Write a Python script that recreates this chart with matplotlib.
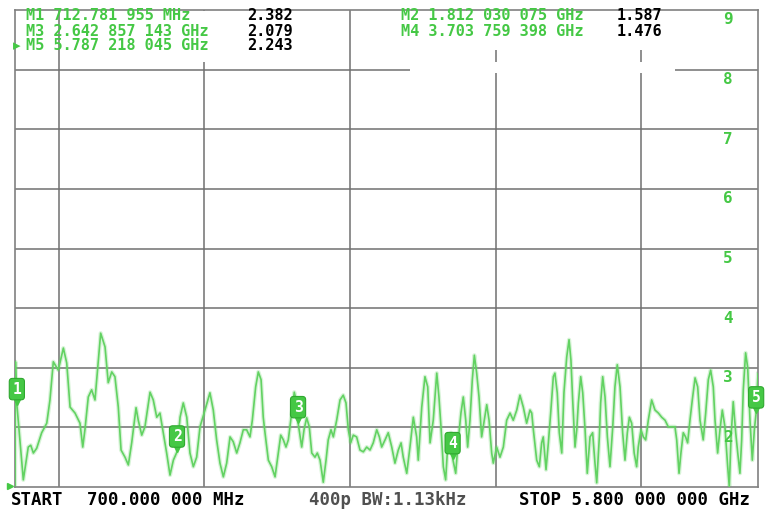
import matplotlib
matplotlib.use('Agg')
import matplotlib.pyplot as plt
from matplotlib.patches import Rectangle
from matplotlib.transforms import offset_copy, blended_transform_factory

# SWR trace (frequency in MHz)
freq_mhz = [
    700, 703, 713, 757, 791, 808, 826, 849, 883, 918,
    940, 963, 997, 1032, 1055, 1078, 1112, 1146, 1165, 1180,
    1203, 1226, 1249, 1272, 1288, 1318, 1340, 1364, 1386, 1409,
    1428, 1455, 1478, 1501, 1531, 1546, 1570, 1592, 1627, 1649,
    1673, 1695, 1718, 1741, 1764, 1787, 1812, 1833, 1855, 1879,
    1901, 1924, 1947, 1970, 2004, 2038, 2061, 2084, 2107, 2130,
    2153, 2176, 2198, 2222, 2244, 2267, 2290, 2313, 2329, 2352,
    2370, 2389, 2404, 2416, 2439, 2462, 2485, 2507, 2524, 2542,
    2560, 2576, 2599, 2617, 2634, 2643, 2668, 2684, 2702, 2720,
    2737, 2759, 2775, 2794, 2816, 2835, 2850, 2869, 2885, 2908,
    2931, 2953, 2972, 2988, 3004, 3022, 3045, 3068, 3091, 3114,
    3137, 3159, 3183, 3201, 3217, 3240, 3262, 3286, 3308, 3331,
    3350, 3365, 3389, 3411, 3434, 3457, 3468, 3492, 3514, 3533,
    3549, 3571, 3595, 3610, 3624, 3640, 3656, 3674, 3693, 3704,
    3725, 3743, 3761, 3777, 3794, 3807, 3823, 3839, 3853, 3869,
    3885, 3903, 3921, 3938, 3954, 3972, 3983, 4006, 4029, 4052,
    4075, 4098, 4120, 4144, 4166, 4189, 4212, 4235, 4247, 4258,
    4281, 4299, 4315, 4326, 4345, 4361, 4377, 4395, 4406, 4422,
    4436, 4453, 4468, 4487, 4503, 4516, 4528, 4544, 4556, 4567,
    4583, 4597, 4613, 4628, 4647, 4665, 4681, 4693, 4711, 4720,
    4734, 4750, 4766, 4784, 4803, 4818, 4834, 4853, 4871, 4887,
    4903, 4917, 4933, 4950, 4967, 4978, 4997, 5013, 5029, 5047,
    5070, 5093, 5116, 5139, 5162, 5184, 5208, 5230, 5242, 5258,
    5271, 5287, 5303, 5317, 5333, 5349, 5368, 5386, 5402, 5424,
    5441, 5459, 5475, 5493, 5505, 5523, 5539, 5555, 5573, 5592,
    5603, 5615, 5630, 5647, 5661, 5676, 5688, 5699, 5715, 5729,
    5745, 5761, 5775, 5787, 5800,
]
swr = [
    1.02, 3.10, 2.38, 1.12, 1.67, 1.70, 1.57, 1.65, 1.91, 2.07,
    2.46, 3.10, 2.96, 3.33, 3.08, 2.34, 2.24, 2.07, 1.67, 1.96,
    2.51, 2.63, 2.46, 3.13, 3.58, 3.35, 2.75, 2.93, 2.85, 2.34,
    1.62, 1.50, 1.37, 1.74, 2.33, 2.12, 1.87, 2.01, 2.59, 2.46,
    2.17, 2.24, 1.91, 1.57, 1.20, 1.45, 1.59, 2.17, 2.41, 2.17,
    1.57, 1.34, 1.50, 2.01, 2.29, 2.58, 2.29, 1.79, 1.40, 1.17,
    1.40, 1.84, 1.76, 1.57, 1.74, 1.96, 1.96, 1.84, 2.12, 2.68,
    2.93, 2.80, 2.17, 1.91, 1.45, 1.34, 1.17, 1.57, 1.87, 1.79,
    1.67, 1.79, 2.24, 2.59, 2.41, 2.08, 1.67, 1.96, 2.16, 2.01,
    1.57, 1.50, 1.57, 1.45, 1.08, 1.45, 1.79, 1.96, 1.84, 2.12,
    2.46, 2.54, 2.41, 1.96, 1.74, 1.87, 1.84, 1.62, 1.59, 1.67,
    1.62, 1.74, 1.96, 1.84, 1.67, 1.79, 1.91, 1.67, 1.40, 1.62,
    1.74, 1.50, 1.23, 1.67, 2.17, 1.84, 1.45, 2.34, 2.85, 2.68,
    1.74, 2.12, 2.91, 2.51, 2.01, 1.34, 1.12, 1.84, 1.91, 1.48,
    1.23, 1.79, 2.24, 2.51, 2.12, 1.67, 2.12, 2.80, 3.21, 2.91,
    2.51, 1.84, 2.12, 2.38, 2.12, 1.57, 1.40, 1.67, 1.50, 1.67,
    2.12, 2.24, 2.12, 2.29, 2.54, 2.34, 2.07, 2.29, 2.24, 1.96,
    1.45, 1.34, 1.74, 1.84, 1.29, 1.74, 2.24, 2.85, 2.91, 2.58,
    1.91, 1.57, 2.58, 3.18, 3.47, 3.13, 2.46, 1.67, 1.96, 2.41,
    2.85, 2.58, 1.96, 1.23, 1.84, 1.91, 1.40, 1.07, 1.84, 2.41,
    2.85, 2.51, 1.84, 1.34, 2.01, 2.68, 3.05, 2.68, 1.91, 1.45,
    1.91, 2.17, 2.07, 1.57, 1.34, 1.67, 1.96, 1.84, 1.79, 2.12,
    2.46, 2.29, 2.24, 2.17, 2.12, 2.01, 2.01, 2.01, 1.79, 1.23,
    1.57, 1.91, 1.84, 1.74, 2.12, 2.46, 2.83, 2.68, 2.12, 1.79,
    2.24, 2.80, 2.96, 2.68, 2.12, 1.57, 1.96, 2.29, 2.01, 1.34,
    1.00, 1.84, 2.43, 1.91, 1.57, 1.23, 1.79, 2.63, 3.25, 3.01,
    2.12, 1.45, 1.96, 2.24, 2.90,
]

marker_ids = [1, 2, 3, 4, 5]
marker_freq = [712.781955, 1812.030075, 2642.857143, 3703.759398, 5787.218045]
marker_swr = [2.382, 1.587, 2.079, 1.476, 2.243]
marker_labels = ['M1 712.781 955 MHz', 'M2 1.812 030 075 GHz', 'M3 2.642 857 143 GHz',
                 'M4 3.703 759 398 GHz', 'M5 5.787 218 045 GHz']
marker_values = ['2.382', '1.587', '2.079', '1.476', '2.243']

y_labels = [9, 8, 7, 6, 5, 4, 3, 2]
grid_freq = [1000, 2000, 3000, 4000, 5000]
grid_swr = [2, 3, 4, 5, 6, 7, 8]

start_text = ['START', '700.000 000 MHz']
bw_text = '400p BW:1.13kHz'
stop_text = 'STOP 5.800 000 000 GHz'

GREEN = '#45c845'
TRACE = '#62d262'
W, H = 765, 512


def px(x, y):
    return x / W, 1 - y / H


fig = plt.figure(figsize=(W / 100, H / 100), dpi=100)
fig.patch.set_facecolor('white')
ax = fig.add_axes([15 / W, 25 / H, 743 / W, 477 / H])
ax.set_xlim(700, 5800)
ax.set_ylim(1, 9)
ax.set_xticks([])
ax.set_yticks([])
for s in ax.spines.values():
    s.set_color('#808080')
    s.set_linewidth(1.2)

for f in grid_freq:
    ax.axvline(f, color='#707070', lw=1.1, zorder=1)
for v in grid_swr:
    ax.axhline(v, color='#707070', lw=1.1, zorder=1)

ax.plot(freq_mhz, swr, color=TRACE, lw=3.0, alpha=0.25, zorder=2)
ax.plot(freq_mhz, swr, color=TRACE, lw=1.2, zorder=3)

# reference arrow at bottom-left
ax.plot(700, 1.0, marker='>', ms=5, color=GREEN, clip_on=False,
        transform=offset_copy(ax.transData, fig=fig, x=-5, y=1, units='dots'), zorder=4)

# marker flags
tri = offset_copy(ax.transData, fig=fig, x=0, y=5, units='dots')
for mid, f, v in zip(marker_ids, marker_freq, marker_swr):
    ax.plot(f, v, marker='v', ms=7, color=GREEN, transform=tri, clip_on=False, zorder=5)
    ax.annotate(str(mid), xy=(f, v), xytext=(0, 8), textcoords='offset pixels',
                ha='center', va='bottom', fontsize=10.5, fontweight='bold', color='white',
                family='DejaVu Sans Mono', annotation_clip=False, zorder=6,
                bbox=dict(boxstyle='round,pad=0.22', fc=GREEN, ec='#2fa82f', lw=0.8))

# scale labels on the right
lab_tr = offset_copy(blended_transform_factory(ax.transAxes, ax.transData),
                     fig=fig, x=0, y=-10, units='dots')
for v in y_labels:
    ax.text(0.9596, v, str(v), transform=lab_tr, ha='center', va='center',
            fontsize=11.5, fontweight='bold', color=GREEN, family='DejaVu Sans Mono')

# white areas behind the marker readouts
for (x0, y0, x1, y1) in [(62, 11, 346, 62), (386, 11, 690, 50), (410, 62, 675, 73)]:
    fig.patches.append(Rectangle(px(x0, y1), (x1 - x0) / W, (y1 - y0) / H,
                                 transform=fig.transFigure, fc='white', ec='none', zorder=1))

head = dict(family='DejaVu Sans Mono', fontweight='bold', fontsize=11, va='center', zorder=3)
foot = dict(family='DejaVu Sans Mono', fontweight='bold', fontsize=12.5, va='center')
left_rows = [0, 2, 4]
right_rows = [1, 3]
for row, i in enumerate(left_rows):
    y = 16 + row * 15
    fig.text(*px(26, y), marker_labels[i], color=GREEN, **head)
    fig.text(*px(247, y), marker_values[i], color='black', **head)
for row, i in enumerate(right_rows):
    y = 16 + row * 15
    fig.text(*px(401, y), marker_labels[i], color=GREEN, **head)
    fig.text(*px(617, y), marker_values[i], color='black', **head)
fig.text(*px(13, 46), '\u25b8', color=GREEN, family='DejaVu Sans', fontsize=11, va='center', zorder=3)

fig.text(*px(11, 500), start_text[0], color='black', **foot)
fig.text(*px(87, 500), start_text[1], color='black', **foot)
fig.text(*px(309, 500), bw_text, color='#505050', **foot)
fig.text(*px(519, 500), stop_text, color='black', **foot)

fig.savefig('out.png', dpi=100)
